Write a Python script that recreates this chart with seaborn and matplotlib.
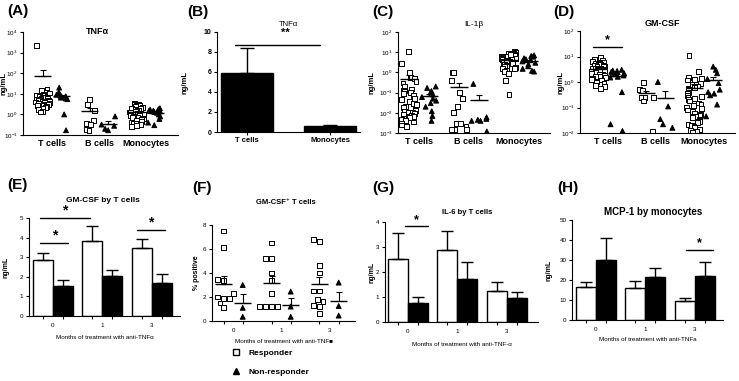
import warnings
import numpy as np
import pandas as pd
import seaborn as sns
import matplotlib
matplotlib.use("Agg")
import matplotlib.pyplot as plt
from matplotlib.lines import Line2D
from matplotlib.ticker import LogLocator, NullLocator

warnings.filterwarnings("ignore")
np.random.seed(7)  # strip jitter only

W, H = 739, 381

groups = ["Responder", "Non-responder"]
markers = ["s", "^"]
palette = {"Responder": "white", "Non-responder": "black"}
cells = ["T cells", "B cells", "Monocytes"]
months = ["0", "1", "3"]

# (A) TNFa, ng/mL
a_t_resp = [2150, 17, 14, 12, 11, 9.5, 8.5, 8, 7.5, 7, 6.5, 6, 6, 5.5, 5.2, 5, 4.8,
            4.5, 4.3, 4, 3.8, 3.6, 3.4, 3.2, 3, 2.8, 2.6, 2.4, 2.2, 2, 1.8, 1.4, 1.3]
a_t_non = [20, 12, 10, 9, 8.5, 8, 7.5, 7, 7, 6.5, 6, 5.5, 1.0, 0.17]
a_b_resp = [5.5, 3.0, 1.5, 0.5, 0.35, 0.33, 0.18, 0.17]
a_b_non = [0.8, 0.32, 0.28, 0.2, 0.17]
a_m_resp = [3.5, 3.2, 3.0, 2.8, 2.6, 2.4, 2.2, 2.0, 1.9, 1.8, 1.7, 1.6, 1.5, 1.4, 1.3,
            1.2, 1.15, 1.1, 1.0, 0.95, 0.9, 0.85, 0.8, 0.75, 0.7, 0.65, 0.6, 0.55,
            0.5, 0.45, 0.42, 0.38, 0.35, 0.32, 0.3, 0.27]
a_m_non = [2.0, 1.8, 1.7, 1.6, 1.5, 1.5, 1.4, 1.3, 1.2, 1.0, 0.8, 0.6, 0.4, 0.3]

# (B) TNFa, T cells vs monocytes
b_cats = ["T cells", "Monocytes"]
b_mean = [5.95, 0.6]
b_sem = [2.45, 0.15]

# (C) IL-1b
c_t_resp = [10.5, 2.7, 1.0, 0.55, 0.5, 0.35, 0.3, 0.2, 0.15, 0.13, 0.12, 0.1, 0.09,
            0.07, 0.05, 0.045, 0.035, 0.03, 0.025, 0.02, 0.018, 0.015, 0.013, 0.012,
            0.011, 0.01, 0.009, 0.008, 0.007, 0.0065, 0.006, 0.005, 0.0045, 0.004,
            0.0035, 0.003, 0.0025, 0.0022]
c_t_non = [0.2, 0.17, 0.12, 0.1, 0.08, 0.06, 0.05, 0.04, 0.03, 0.02, 0.012, 0.007, 0.004]
c_b_resp = [1.0, 0.95, 0.4, 0.1, 0.05, 0.02, 0.01, 0.003, 0.003, 0.002, 0.0015,
            0.0015, 0.0015]
c_b_non = [0.27, 0.006, 0.005, 0.0045, 0.004, 0.004, 0.0012]
c_m_resp = [11, 10, 9, 8.5, 8, 7.5, 7, 6.5, 6, 6, 5.5, 5, 5, 4.5, 4.5, 4, 4, 3.5, 3.5,
            3, 3, 2.8, 2.5, 2.5, 2.2, 2, 2, 1.8, 1.6, 1.5, 1.3, 1.1, 0.9, 0.4, 0.08]
c_m_non = [7, 6.5, 6, 5, 4.5, 4, 4, 3.5, 3, 2.5, 2, 1.5, 1.2, 1.1]

# (D) GM-CSF
d_t_resp = [9, 7.5, 7, 6.5, 6, 5.5, 5.5, 5, 5, 4.5, 4.5, 4, 4, 4, 3.5, 3.5, 3.5, 3, 3,
            3, 2.8, 2.6, 2.5, 2.4, 2.2, 2, 2, 1.8, 1.7, 1.6, 1.5, 1.4, 1.3, 1.2, 1.1,
            1, 0.9, 0.75, 0.65, 0.55]
d_t_non = [3.0, 2.8, 2.7, 2.5, 2.3, 2.2, 2.0, 1.8, 1.6, 1.5, 0.4, 0.022, 0.012]
d_b_resp = [0.95, 0.5, 0.45, 0.25, 0.25, 0.25, 0.18, 0.012]
d_b_non = [1.0, 0.11, 0.035, 0.022, 0.016]
d_m_resp = [11, 2.5, 1.5, 1.4, 1.3, 1.2, 0.9, 0.8, 0.7, 0.6, 0.55, 0.5, 0.45, 0.4,
            0.35, 0.3, 0.28, 0.25, 0.22, 0.2, 0.18, 0.15, 0.13, 0.12, 0.1, 0.09, 0.08,
            0.07, 0.06, 0.055, 0.05, 0.045, 0.04, 0.035, 0.03, 0.028, 0.025, 0.022,
            0.02, 0.018, 0.016, 0.014, 0.013, 0.012, 0.011]
d_m_non = [4.0, 3.0, 2.2, 1.3, 0.9, 0.5, 0.4, 0.35, 0.3, 0.13, 0.045]

# (E) GM-CSF by T cells, mean and SEM per month
e_resp = [2.85, 3.85, 3.45]
e_resp_sem = [0.35, 0.75, 0.5]
e_non = [1.55, 2.05, 1.7]
e_non_sem = [0.27, 0.3, 0.45]

# (F) GM-CSF+ T cells, % positive
f_resp = [[7.5, 6.1, 3.45, 3.4, 2.3, 2.0, 1.9, 1.9, 1.5, 1.1],
          [6.5, 5.2, 5.2, 4.0, 3.4, 2.3, 1.2, 1.2, 1.2, 1.2],
          [6.6, 6.8, 4.6, 4.0, 2.5, 2.5, 1.8, 1.6, 1.3, 1.2, 0.6]]
f_non = [[3.0, 1.1, 0.35],
         [2.45, 1.2, 0.35],
         [3.2, 1.25, 0.45]]

# (G) IL-6 by T cells
g_resp = [2.52, 2.87, 1.23]
g_resp_sem = [1.04, 0.77, 0.39]
g_non = [0.77, 1.74, 0.98]
g_non_sem = [0.23, 0.66, 0.23]

# (H) MCP-1 by monocytes
h_resp = [16.7, 15.8, 9.7]
h_resp_sem = [2.5, 3.9, 1.2]
h_non = [30, 21.3, 22.2]
h_non_sem = [11.2, 4.5, 6.6]

sns.set_theme(style="ticks")
plt.rcParams["font.family"] = ["Liberation Sans", "DejaVu Sans"]
plt.rcParams.update({
    "axes.linewidth": 0.8, "axes.edgecolor": "black",
    "xtick.color": "black", "ytick.color": "black",
    "xtick.major.width": 0.8, "ytick.major.width": 0.8,
    "xtick.minor.width": 0.8,
    "xtick.major.size": 2.5, "ytick.major.size": 2.5, "xtick.minor.size": 2.5,
    "xtick.major.pad": 1.5, "ytick.major.pad": 1.5,
    "text.color": "black", "axes.labelcolor": "black",
})

fig = plt.figure(figsize=(W / 100, H / 100), dpi=100)


def px_axes(l, t, r, b):
    return fig.add_axes([l / W, 1 - b / H, (r - l) / W, (b - t) / H])


def to_long(cats, resp, non):
    rows = []
    for cat, r, n in zip(cats, resp, non):
        rows += [(cat, groups[0], v) for v in r]
        rows += [(cat, groups[1], v) for v in n]
    return pd.DataFrame(rows, columns=["cat", "group", "value"])


def dots(ax, df, cats, log=False, swarm=False):
    for grp, mk in zip(groups, markers):
        kw = dict(data=df[df["group"] == grp], x="cat", y="value", hue="group",
                  order=cats, hue_order=groups, palette=palette, dodge=True,
                  marker=mk, size=3.5, edgecolor="black", linewidth=0.7,
                  legend=False, log_scale=True if log else None, ax=ax)
        if swarm:
            sns.swarmplot(**kw)
        else:
            # jitter is split between the two hue levels when dodging
            sns.stripplot(jitter=0.32, **kw)
    # mean line + SEM whisker
    for i, cat in enumerate(cats):
        for j, grp in enumerate(groups):
            v = df.loc[(df["cat"] == cat) & (df["group"] == grp), "value"].to_numpy()
            m = v.mean()
            se = v.std(ddof=1) / np.sqrt(len(v))
            x = i - 0.2 + 0.4 * j
            ax.hlines(m, x - 0.18, x + 0.18, color="black", lw=1, zorder=4)
            ax.errorbar(x, m, yerr=[[0], [se]], fmt="none", ecolor="black",
                        elinewidth=0.8, capsize=2, capthick=0.8, zorder=4)
    ax.set_xlabel("")


def bars(ax, resp, resp_se, non, non_se):
    df = pd.DataFrame({"month": months * 2,
                       "group": [groups[0]] * 3 + [groups[1]] * 3,
                       "value": resp + non})
    sns.barplot(data=df, x="month", y="value", hue="group", order=months,
                hue_order=groups, palette=palette, edgecolor="black", linewidth=1,
                errorbar=None, legend=False, ax=ax)
    conts = list(ax.containers)[:2]
    for cont, se in zip(conts, [resp_se, non_se]):
        for p, e in zip(cont, se):
            ax.errorbar(p.get_x() + p.get_width() / 2, p.get_height(),
                        yerr=[[0], [e]], fmt="none", ecolor="black",
                        elinewidth=1, capsize=4, capthick=1)


def head(ax, txt, fx, dy_px, fs, bold=False):
    ax.annotate(txt, xy=(fx, 1), xycoords="axes fraction",
                xytext=(0, dy_px * 0.72), textcoords="offset points",
                ha="center", va="center", fontsize=fs,
                fontweight="bold" if bold else "normal")


def sig(ax, x1, x2, y, ys, txt="*", fs=10):
    ax.plot([x1, x2], [y, y], color="black", lw=1, clip_on=False)
    ax.text((x1 + x2) / 2, ys, txt, ha="center", va="center", fontsize=fs,
            fontweight="bold", clip_on=False)


def top_style(ax, xlim, ylabel_x):
    sns.despine(ax=ax)
    ax.set_xlim(*xlim)
    ax.tick_params(axis="x", length=0, labelsize=6.5, pad=3)
    ax.tick_params(axis="y", labelsize=4.5)
    for lab in ax.get_xticklabels():
        lab.set_fontweight("bold")
    ax.set_ylabel("ng/mL", fontsize=5.5, fontweight="bold")
    ax.yaxis.set_label_coords(ylabel_x, 0.5)


def log_axis(ax, lo, hi):
    ax.set_ylim(lo, hi)
    ax.yaxis.set_major_locator(LogLocator(base=10, numticks=12))
    ax.yaxis.set_minor_locator(NullLocator())


def bottom_style(ax, xlim, ylim, yticks, ylabel, ylabel_x, xlabel, xlabel_y):
    sns.despine(ax=ax)
    ax.set_xlim(*xlim)
    ax.set_ylim(*ylim)
    ax.set_yticks(yticks)
    ax.set_xticks(range(len(months)), months)
    ax.set_xticks([i + d for i in range(len(months)) for d in (-0.2, 0.2)], minor=True)
    ax.tick_params(axis="x", which="major", length=0, labelsize=4.5, pad=5)
    ax.tick_params(axis="y", labelsize=4.5)
    ax.set_ylabel(ylabel, fontsize=5, fontweight="bold")
    ax.yaxis.set_label_coords(ylabel_x, 0.5)
    ax.set_xlabel(xlabel, fontsize=4.5)
    ax.xaxis.set_label_coords(0.5, xlabel_y)


# (A)
ax = px_axes(23, 32, 178, 135)
dots(ax, to_long(cells, [a_t_resp, a_b_resp, a_m_resp], [a_t_non, a_b_non, a_m_non]),
     cells, log=True)
log_axis(ax, 0.1, 1e4)
top_style(ax, (-0.62, 2.68), -0.10)
head(ax, "TNFα", 0.48, 0, 6.5, True)

# (B)
ax = px_axes(217, 32, 360, 132)
sns.barplot(x=b_cats, y=b_mean, color="black", edgecolor="black", width=0.62,
            errorbar=None, ax=ax)
for p, e in zip(ax.containers[0], b_sem):
    ax.errorbar(p.get_x() + p.get_width() / 2, p.get_height(), yerr=[[0], [e]],
                fmt="none", ecolor="black", elinewidth=1, capsize=5, capthick=1)
sns.despine(ax=ax)
ax.set_xlim(-0.36, 1.36)
ax.set_ylim(0, 10)
ax.set_yticks(range(0, 11, 2))
ax.tick_params(axis="x", labelsize=5.5, length=2)
ax.tick_params(axis="y", labelsize=5)
for lab in ax.get_xticklabels() + ax.get_yticklabels():
    lab.set_fontweight("bold")
ax.set_ylabel("ng/mL", fontsize=5.5, fontweight="bold")
ax.yaxis.set_label_coords(-0.2, 0.5)
ax.plot([-0.14, 0.88], [8.7, 8.7], color="black", lw=1)
head(ax, "TNFα", 0.5, 7, 5.5)
head(ax, "**", 0.475, -1, 8, True)

# (C)
ax = px_axes(398, 32, 550, 133)
dots(ax, to_long(cells, [c_t_resp, c_b_resp, c_m_resp], [c_t_non, c_b_non, c_m_non]),
     cells, log=True)
log_axis(ax, 1e-3, 1e2)
top_style(ax, (-0.42, 2.62), -0.15)
head(ax, "IL-1β", 0.5, 7, 6)

# (D)
ax = px_axes(580, 31, 735, 133)
dots(ax, to_long(cells, [d_t_resp, d_b_resp, d_m_resp], [d_t_non, d_b_non, d_m_non]),
     cells, log=True)
log_axis(ax, 1e-2, 1e2)
top_style(ax, (-0.58, 2.65), -0.10)
head(ax, "GM-CSF", 0.53, 7, 6.5, True)
sig(ax, -0.31, 0.29, 24, 44, fs=9)

# (E)
ax = px_axes(29, 218, 180, 316)
bars(ax, e_resp, e_resp_sem, e_non, e_non_sem)
bottom_style(ax, (-0.48, 2.57), (0, 5), range(6), "ng/mL", -0.126,
             "Months of treatment with anti-TNFα", -0.19)
head(ax, "GM-CSF by T cells", 0.49, 18, 6, True)
sig(ax, -0.25, 0.31, 3.7, 4.1)
sig(ax, -0.26, 0.75, 5.0, 5.4)
sig(ax, 1.7, 2.26, 4.4, 4.75)

# (F)
ax = px_axes(212, 225, 355, 321)
dots(ax, to_long(months, f_resp, f_non), months, swarm=True)
bottom_style(ax, (-0.44, 2.54), (0, 8), range(0, 9, 2), "% positive", -0.084,
             "Months of treatment with anti-TNF■", -0.19)
head(ax, "GM-CSF⁺ T cells", 0.52, 22, 5.5, True)

# (G)
ax = px_axes(385, 222, 538, 322)
bars(ax, g_resp, g_resp_sem, g_non, g_non_sem)
bottom_style(ax, (-0.46, 2.63), (0, 4), range(5), "ng/mL", -0.065,
             "Months of treatment with anti-TNF-α", -0.2)
head(ax, "IL-6 by T cells", 0.54, 9, 5.5, True)
sig(ax, -0.06, 0.4, 3.84, 4.09, fs=9)

# (H)
ax = px_axes(572, 220, 723, 320)
bars(ax, h_resp, h_resp_sem, h_non, h_non_sem)
bottom_style(ax, (-0.48, 2.57), (0, 50), range(0, 51, 10), "ng/mL", -0.13,
             "Months of treatment with anti-TNFa", -0.17)
head(ax, "MCP-1 by monocytes", 0.54, 8, 7, True)
sig(ax, 1.82, 2.36, 35, 38.5, fs=9)

# panel letters
for lab, x, y in [("(A)", 7, 11), ("(B)", 187, 12), ("(C)", 372, 12), ("(D)", 553, 12),
                  ("(E)", 7, 185), ("(F)", 192, 188), ("(G)", 372, 188), ("(H)", 557, 188)]:
    fig.text(x / W, 1 - y / H, lab, fontsize=11, fontweight="bold", va="center")

handles = [Line2D([], [], marker="s", ls="none", mfc="white", mec="black", ms=4.5, mew=1),
           Line2D([], [], marker="^", ls="none", mfc="black", mec="black", ms=4.5, mew=1)]
fig.legend(handles, groups, loc="upper left", bbox_to_anchor=(232 / W, 1 - 349 / H),
           frameon=False, prop={"size": 6, "weight": "bold"}, handlelength=1,
           handletextpad=1, labelspacing=1.3, borderpad=0, borderaxespad=0)

fig.savefig("out.png", dpi=100)
